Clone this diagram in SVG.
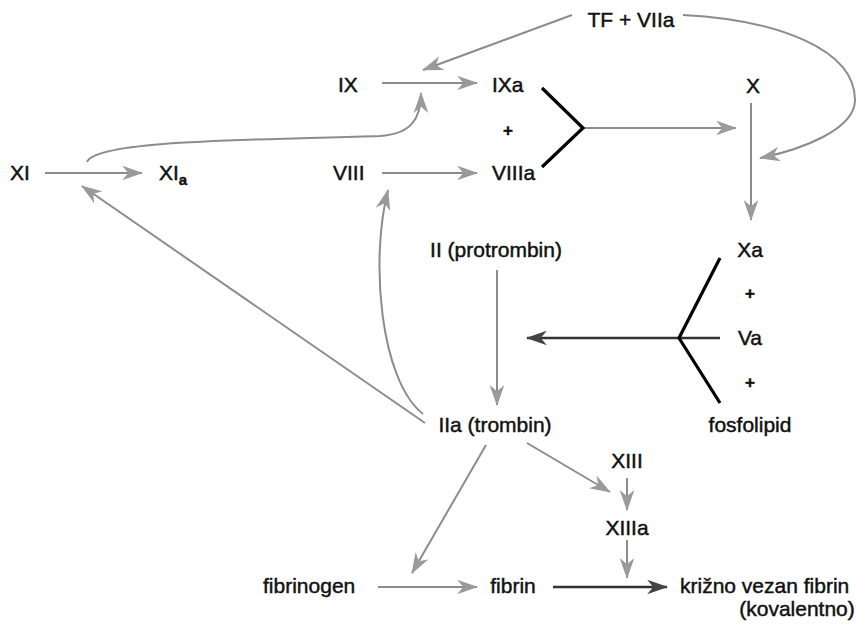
<svg xmlns="http://www.w3.org/2000/svg" width="856" height="624" viewBox="0 0 856 624">
<defs>
<style>
text{font-family:"Liberation Sans",Arial,sans-serif;font-size:21px;fill:#111;stroke:#111;stroke-width:0.45}
.s{text-anchor:start}
.m{text-anchor:middle}
.plus{font-size:17px;font-weight:bold;text-anchor:middle}
.c{fill:none;stroke:#8c8c8c;stroke-width:2}
.d{fill:none;stroke:#333;stroke-width:2.5}
.br{fill:none;stroke:#000;stroke-width:3.2;stroke-linejoin:miter}
</style>
<marker id="ah" viewBox="0 0 20 14" refX="19" refY="7" markerWidth="21" markerHeight="15" markerUnits="userSpaceOnUse" orient="auto">
<path d="M0,0 L20,7 L0,14 L6,7 Z" fill="#9a9a9a"/>
</marker>
<marker id="ahd" viewBox="0 0 20 14" refX="19" refY="7" markerWidth="21" markerHeight="15" markerUnits="userSpaceOnUse" orient="auto">
<path d="M0,0 L20,7 L0,14 L6,7 Z" fill="#444"/>
</marker>
</defs>
<rect width="856" height="624" fill="#fff"/>
<g id="connectors">
<path class="c" marker-end="url(#ah)" d="M45,173 L142,173"/>
<path class="c" marker-end="url(#ah)" d="M87,162 C95,140 250,140 380,136 C410,134 421,120 421,93"/>
<path class="c" marker-end="url(#ah)" d="M382,83 L477,83"/>
<path class="c" marker-end="url(#ah)" d="M572,15 L423,70"/>
<path class="c" marker-end="url(#ah)" d="M683,15 C780,20 855,50 855,100 C855,130 800,150 760,158"/>
<path class="c" marker-end="url(#ah)" d="M382,173 L477,173"/>
<path class="c" marker-end="url(#ah)" d="M583,128 L736,128"/>
<path class="c" marker-end="url(#ah)" d="M751,103 L751,220"/>
<path class="d" marker-end="url(#ahd)" d="M720,338 L527,338"/>
<path class="c" marker-end="url(#ah)" d="M497,270 L497,405"/>
<path class="c" marker-end="url(#ah)" d="M425,423 L82,186"/>
<path class="c" marker-end="url(#ah)" d="M423,414 C380,380 370,260 388,190"/>
<path class="c" marker-end="url(#ah)" d="M486,445 L412,573"/>
<path class="c" marker-end="url(#ah)" d="M527,443 L610,492"/>
<path class="c" marker-end="url(#ah)" d="M627,478 L627,510"/>
<path class="c" marker-end="url(#ah)" d="M627,540 L627,578"/>
<path class="c" marker-end="url(#ah)" d="M378,587 L477,587"/>
<path class="d" marker-end="url(#ahd)" d="M553,587 L667,587"/>
<polyline class="br" points="542,88 583,128 542,167"/>
<polyline class="br" points="720,258 679,338 720,403"/>
</g>
<g id="tf"><text class="m" x="631" y="27">TF + VIIa</text></g>
<g id="ix"><text class="s" x="338" y="92">IX</text></g>
<g id="ixa"><text class="s" x="492" y="92">IXa</text></g>
<g id="plus1"><text class="plus" x="508" y="136">+</text></g>
<g id="viiia"><text class="s" x="492" y="180">VIIIa</text></g>
<g id="viii"><text class="s" x="333" y="180">VIII</text></g>
<g id="xi"><text class="s" x="10" y="180">XI</text></g>
<g id="xia"><text class="s" x="159" y="180">XI<tspan font-size="15" font-weight="bold" dy="5">a</tspan></text></g>
<g id="x"><text class="m" x="753" y="93">X</text></g>
<g id="xa"><text class="m" x="750" y="257">Xa</text></g>
<g id="plus2"><text class="plus" x="750" y="299">+</text></g>
<g id="va"><text class="m" x="750" y="345">Va</text></g>
<g id="plus3"><text class="plus" x="750" y="388">+</text></g>
<g id="fosfolipid"><text class="m" x="750" y="432">fosfolipid</text></g>
<g id="ii"><text class="m" x="496" y="257">II (protrombin)</text></g>
<g id="iia"><text class="m" x="495" y="432">IIa (trombin)</text></g>
<g id="xiii"><text class="m" x="627" y="468">XIII</text></g>
<g id="xiiia"><text class="m" x="627" y="535">XIIIa</text></g>
<g id="fibrinogen"><text class="s" x="263" y="593">fibrinogen</text></g>
<g id="fibrin"><text class="m" x="513" y="593">fibrin</text></g>
<g id="krizno"><text class="s" x="680" y="593">križno vezan fibrin</text><text class="m" x="797" y="616">(kovalentno)</text></g>
</svg>
